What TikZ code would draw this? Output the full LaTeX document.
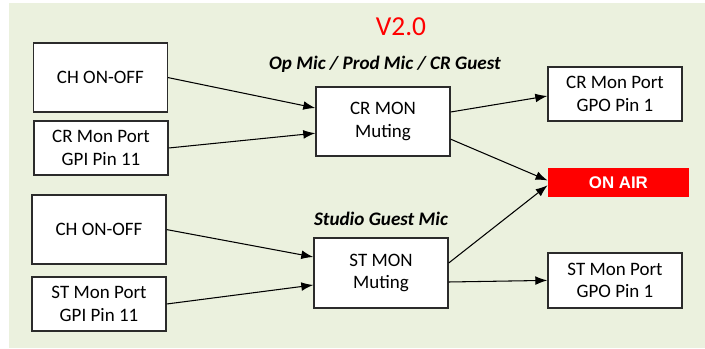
\documentclass[tikz,border=0pt]{standalone}
\usepackage{fontspec}
\setmainfont{Carlito}
\newfontfamily\airfont{Liberation Sans}
\usetikzlibrary{arrows.meta,positioning}
\definecolor{panelbg}{HTML}{EBF1DE}
\definecolor{airred}{HTML}{FF0000}
\definecolor{boxline}{HTML}{2B2B2B}

\begin{document}
\begin{tikzpicture}[font=\fontsize{13.5}{16}\selectfont,
box/.style={draw=boxline,fill=white,line width=1pt,minimum width=3.35cm,minimum height=#1,align=center,inner sep=2pt},
box/.default=1.725cm,
group/.style={font=\fontsize{13.6}{16}\selectfont\bfseries\itshape},
arrow/.style={-{Latex[length=3mm,width=2.2mm]},line width=.75pt,draw=black}]
\useasboundingbox (0,0) rectangle (17.625,-8.725);
\fill[panelbg] (0.225,-0.08) rectangle (17.625,-8.7);
\node[text=airred,font=\fontsize{19.5}{22}\selectfont] (title) at (10.025,-0.675) {V2.0};
\node[group] (crlabel) at (9.625,-1.6) {Op Mic / Prod Mic / CR Guest};
\node[group] (stlabel) at (9.525,-5.475) {Studio Guest Mic};
% inputs
\node[box] (chA) at (2.51,-1.94) {CH ON-OFF};
\node[box=1.35cm] (crgpi) at (2.525,-3.7) {CR Mon Port\\GPI Pin 11};
\node[box] (chB) at (2.475,-5.74) {CH ON-OFF};
\node[box=1.35cm] (stgpi) at (2.475,-7.6) {ST Mon Port\\GPI Pin 11};
% muting
\node[box] (crmon) at (9.575,-3.04) {CR MON\\Muting};
\node[box=1.75cm] (stmon) at (9.525,-6.825) {ST MON\\Muting};
% outputs
\node[box=1.35cm] (crgpo) at (15.375,-2.35) {CR Mon Port\\GPO Pin 1};
\node[fill=airred,text=white,minimum width=3.525cm,minimum height=.725cm,inner sep=0pt,font=\airfont\bfseries\fontsize{12}{14}\selectfont] (onair) at (15.46,-4.5625) {ON AIR};
\node[box=1.375cm] (stgpo) at (15.375,-7.01) {ST Mon Port\\GPO Pin 1};
\draw[arrow] (chA.east) -- ([yshift=.34cm]crmon.west);
\draw[arrow] (crgpi.east) -- ([yshift=-.29cm]crmon.west);
\draw[arrow] ([yshift=.24cm]crmon.east) -- ([yshift=-.05cm]crgpo.west);
\draw[arrow] ([yshift=-.44cm]crmon.east) -- ([yshift=.05cm]onair.west);
\draw[arrow] (chB.east) -- ([yshift=.4cm]stmon.west);
\draw[arrow] (stgpi.east) -- ([yshift=-.3cm]stmon.west);
\draw[arrow] ([yshift=.25cm]stmon.east) -- ([yshift=-.07cm]onair.west);
\draw[arrow] ([yshift=-.225cm]stmon.east) -- (stgpo.west);
\end{tikzpicture}
\end{document}
